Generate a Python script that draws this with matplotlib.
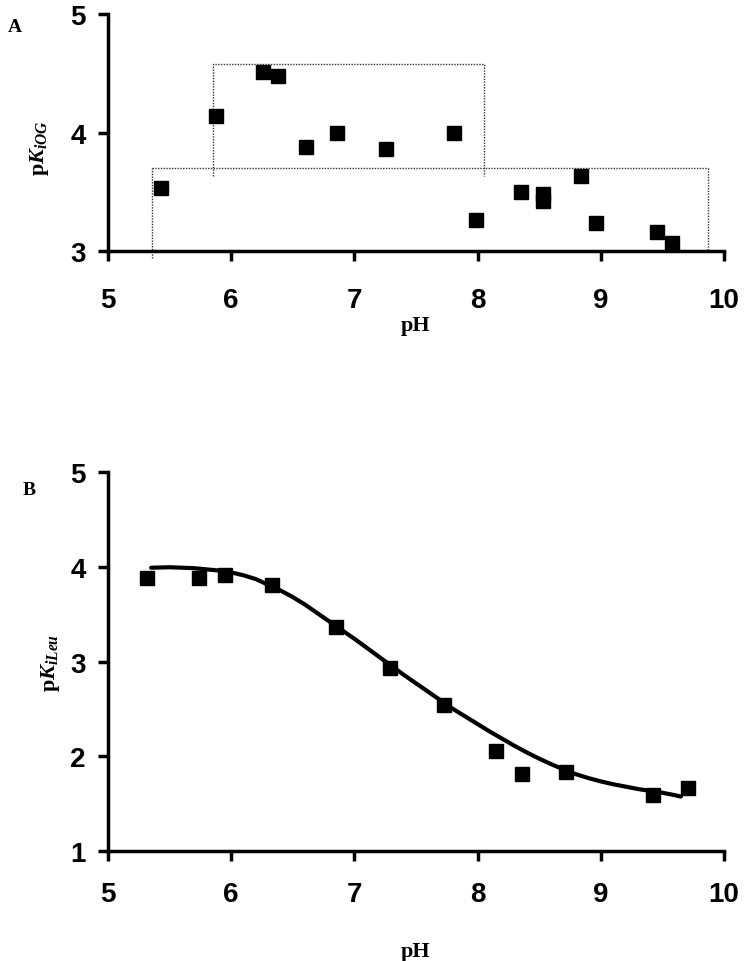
import matplotlib
matplotlib.use("Agg")
import matplotlib.pyplot as plt

# panel A: pKiOG vs pH
ph_a = [5.43, 5.88, 6.26, 6.38, 6.61, 6.86, 7.26, 7.81, 7.99, 8.35, 8.53, 8.53, 8.84, 8.96, 9.46, 9.58]
pk_a = [3.53, 4.14, 4.51, 4.48, 3.88, 4.00, 3.86, 4.00, 3.26, 3.50, 3.48, 3.42, 3.63, 3.24, 3.16, 3.07]

# dotted guide boxes in panel A (pH, pK corners)
box_upper_ph = [5.85, 5.85, 8.05, 8.05]
box_upper_pk = [3.63, 4.58, 4.58, 3.63]
box_lower_left = [(5.36, 2.94), (5.36, 3.70)]
box_lower_top = [(5.36, 3.70), (9.87, 3.70)]
box_lower_right = [(9.87, 3.70), (9.87, 3.01)]

# panel B: pKiLeu vs pH, with fitted curve
ph_b = [5.32, 5.74, 5.95, 6.33, 6.85, 7.29, 7.73, 8.15, 8.36, 8.72, 9.42, 9.71]
pk_b = [3.88, 3.88, 3.91, 3.81, 3.36, 2.93, 2.54, 2.06, 1.81, 1.83, 1.59, 1.67]

fit_ph = [5.35, 5.5, 5.7, 5.9, 6.0, 6.1, 6.2, 6.3, 6.4, 6.5, 6.6, 6.7, 6.8, 6.9,
          7.0, 7.1, 7.2, 7.3, 7.4, 7.5, 7.6, 7.7, 7.8, 7.9, 8.0, 8.1, 8.2, 8.3,
          8.4, 8.5, 8.6, 8.7, 8.8, 8.9, 9.0, 9.1, 9.2, 9.3, 9.4, 9.5, 9.6, 9.65]
fit_pk = [3.99, 3.995, 3.985, 3.96, 3.94, 3.91, 3.87, 3.81, 3.75, 3.68, 3.60, 3.51, 3.42, 3.33,
          3.24, 3.145, 3.05, 2.955, 2.86, 2.77, 2.68, 2.59, 2.50, 2.42, 2.34, 2.26, 2.185, 2.11,
          2.04, 1.975, 1.915, 1.86, 1.81, 1.77, 1.735, 1.705, 1.68, 1.655, 1.635, 1.615, 1.59, 1.575]

x_ticks = [5, 6, 7, 8, 9, 10]

plt.rcParams["mathtext.fontset"] = "custom"
plt.rcParams["mathtext.rm"] = "Liberation Serif:bold"
plt.rcParams["mathtext.it"] = "Liberation Serif:italic:bold"
plt.rcParams["mathtext.bf"] = "Liberation Serif:bold"

TICK_FONT = ["Liberation Sans", "DejaVu Sans"]
SERIF = ["Liberation Serif", "DejaVu Serif"]


def style_axes(ax, y_ticks, x_pad):
    for side in ("top", "right"):
        ax.spines[side].set_visible(False)
    for side in ("left", "bottom"):
        ax.spines[side].set_linewidth(2.5)
    ax.set_xlim(5, 10)
    ax.set_ylim(y_ticks[0], y_ticks[-1])
    ax.set_xticks(x_ticks)
    ax.set_yticks(y_ticks)
    ax.tick_params(direction="out", length=7, width=2.5, labelsize=20)
    ax.tick_params(axis="x", pad=x_pad)
    ax.tick_params(axis="y", pad=9)
    for lab in ax.get_xticklabels() + ax.get_yticklabels():
        lab.set_family(TICK_FONT)
        lab.set_fontweight("bold")
    ax.set_xlabel("pH", family=SERIF, fontweight="bold", fontsize=16)
    ax.xaxis.label.set_verticalalignment("center")


fig = plt.figure(figsize=(7.46, 9.62), dpi=100)
ax_a = fig.add_axes([0.1448, 0.738, 0.8257, 0.2464])
ax_b = fig.add_axes([0.1448, 0.1143, 0.8257, 0.394])

# panel A
style_axes(ax_a, [3, 4, 5], x_pad=19)
guide = dict(color="0.2", lw=1.0, linestyle=(0, (1, 1)), clip_on=False)
ax_a.plot(box_upper_ph, box_upper_pk, **guide)
for seg in (box_lower_left, box_lower_top, box_lower_right):
    ax_a.plot([p[0] for p in seg], [p[1] for p in seg], **guide)
ax_a.plot(ph_a, pk_a, "s", color="black", ms=10.5, clip_on=False, zorder=3)
ax_a.set_ylabel(r"p$K_{iOG}$", family=SERIF, fontweight="bold", fontsize=16)
ax_a.yaxis.label.set_verticalalignment("center")
ax_a.yaxis.set_label_coords(-0.112, 0.44)
ax_a.xaxis.set_label_coords(0.5, -0.31)
fig.text(0.010, 0.9667, "A", family=SERIF, fontweight="bold", fontsize=14)

# panel B
style_axes(ax_b, [1, 2, 3, 4, 5], x_pad=14.5)
ax_b.plot(fit_ph, fit_pk, color="black", lw=3, solid_capstyle="round", solid_joinstyle="round")
ax_b.plot(ph_b, pk_b, "s", color="black", ms=10.5, clip_on=False, zorder=3)
ax_b.set_ylabel(r"p$K_{iLeu}$", family=SERIF, fontweight="bold", fontsize=16)
ax_b.yaxis.label.set_verticalalignment("center")
ax_b.yaxis.set_label_coords(-0.094, 0.5)
ax_b.xaxis.set_label_coords(0.5, -0.264)
fig.text(0.030, 0.4855, "B", family=SERIF, fontweight="bold", fontsize=14)

fig.savefig("out.png", dpi=100)
